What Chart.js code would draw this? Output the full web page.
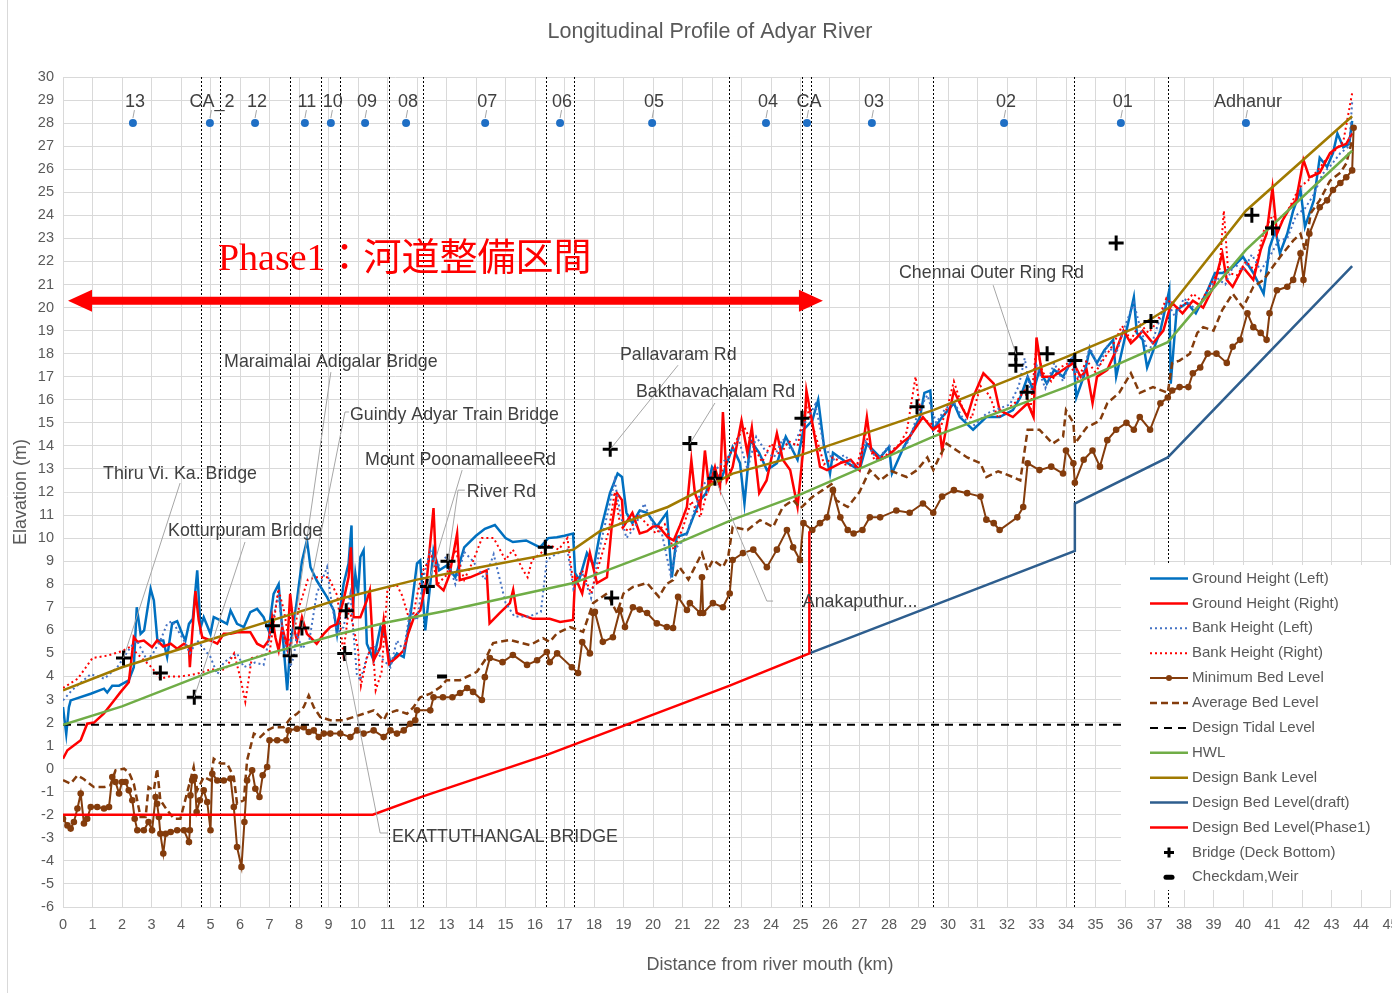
<!DOCTYPE html>
<html>
<head>
<meta charset="utf-8">
<title>Longitudinal Profile of Adyar River</title>
<script src="https://cdn.jsdelivr.net/npm/chart.js@4.4.1/dist/chart.umd.min.js"></script>
<style>
  html, body { margin: 0; padding: 0; background: #fff; overflow: hidden; }
  #wrap { width: 1392px; height: 993px; overflow: hidden; position: relative; }
  canvas { display: block; }
</style>
</head>
<body>
<div id="wrap"><canvas id="profile" width="1420" height="993"></canvas></div>
<script>
// ---- data (km from river mouth, elevation m) ----
const groundLeft = [[0,2.67],[0.11,1.5],[0.2,2.67],[0.26,2.96],[0.94,3.25],[1.39,3.47],[1.5,3.3],[1.67,3.6],[1.9,3.6],[2.23,3.83],[2.4,4.4],[2.5,7.0],[2.63,5.85],[2.75,6.0],[2.97,7.8],[3.08,7.3],[3.2,5.56],[3.4,5.56],[3.53,4.84],[3.7,6.3],[3.87,6.4],[4.04,5.85],[4.15,5.56],[4.27,6.28],[4.4,6.5],[4.55,8.6],[4.66,6.1],[4.77,6.57],[5.0,5.85],[5.11,6.57],[5.34,6.43],[5.56,6.28],[5.68,6.86],[5.9,6.28],[6.13,6.14],[6.35,6.79],[6.58,6.93],[6.8,6.57],[6.97,6.0],[7.14,7.58],[7.31,8.0],[7.48,5.27],[7.6,3.4],[7.7,5.27],[7.93,7.3],[8.1,9.0],[8.27,9.9],[8.39,8.74],[8.6,8.16],[8.95,7.44],[9.18,6.86],[9.29,5.85],[9.51,8.0],[9.68,8.9],[9.78,10.55],[9.83,7.0],[9.91,8.45],[10.0,7.6],[10.08,9.18],[10.19,9.47],[10.3,5.42],[10.53,4.7],[10.76,6.14],[10.93,5.7],[11.1,4.55],[11.32,5.0],[11.55,4.84],[11.77,6.57],[12.0,8.9],[12.11,9.03],[12.28,6.0],[12.45,8.0],[12.56,9.47],[12.75,8.6],[13.0,8.8],[13.3,8.3],[13.6,9.6],[14.0,10.1],[14.3,10.4],[14.64,10.57],[15.0,10.0],[15.25,9.83],[15.7,9.9],[16.17,9.6],[16.45,10.0],[16.74,10.04],[17.0,10.1],[17.29,10.2],[17.36,8.48],[17.5,8.2],[17.76,9.35],[18.0,8.8],[18.2,10.2],[18.54,11.95],[18.8,12.8],[18.95,12.65],[19.1,11.1],[19.3,10.65],[19.55,11.2],[19.8,11.1],[20.13,10.5],[20.47,11.1],[20.64,8.3],[20.8,10.04],[21.15,10.2],[21.36,10.9],[21.6,11.65],[21.8,11.95],[22.0,13.08],[22.3,12.5],[22.7,13.95],[22.95,13.25],[23.1,11.5],[23.3,14.25],[23.6,13.7],[23.86,12.95],[24.2,13.25],[24.5,14.4],[24.9,13.4],[25.1,14.7],[25.4,15.1],[25.6,16.0],[25.8,13.95],[26.0,12.8],[26.1,13.7],[26.6,13.25],[27.0,12.95],[27.25,14.1],[27.7,13.5],[28.0,13.95],[28.1,12.8],[28.5,13.95],[28.7,14.4],[29.05,15.25],[29.2,16.3],[29.4,16.4],[29.5,14.7],[29.8,15.25],[30.2,15.85],[30.4,15.25],[30.85,14.7],[31.3,15.25],[31.75,15.25],[32.2,15.55],[32.45,16.1],[32.7,17.0],[32.9,16.4],[33.1,17.3],[33.35,16.7],[33.6,17.3],[33.9,17.0],[34.25,17.85],[34.35,16.1],[34.6,17.0],[34.8,18.15],[35.05,17.6],[35.3,18.15],[35.6,18.6],[35.7,17.0],[36.05,19.0],[36.3,20.45],[36.4,18.9],[36.6,18.6],[36.75,17.4],[37.2,19.0],[37.5,20.75],[37.55,16.7],[37.75,19.9],[38.1,20.2],[38.4,19.75],[38.8,20.75],[39.05,21.5],[39.3,21.5],[39.65,21.75],[40.0,22.2],[40.35,21.5],[40.7,20.6],[40.9,22.6],[41.1,23.35],[41.25,22.35],[41.5,23.2],[41.7,24.2],[41.95,25.1],[42.1,23.5],[42.4,24.65],[42.6,26.5],[42.85,26.1],[43.05,26.7],[43.2,27.55],[43.4,26.95],[43.6,27.1],[43.7,28.1]];

const groundRight = [[0,0.43],[0.15,0.8],[0.6,1.23],[0.82,1.95],[1.05,2.0],[1.39,2.4],[1.73,2.96],[1.95,3.32],[2.23,3.75],[2.29,4.4],[2.4,5.7],[2.52,5.5],[2.74,5.56],[3.02,5.27],[3.19,5.56],[3.4,5.3],[3.65,5.42],[3.87,5.2],[4.1,5.42],[4.27,5.27],[4.3,4.4],[4.38,5.85],[4.49,7.7],[4.6,6.43],[4.72,5.7],[5.0,5.56],[5.23,5.42],[5.45,5.85],[5.68,5.85],[5.9,5.92],[6.35,5.92],[6.58,5.42],[6.8,5.27],[6.97,5.56],[7.09,6.57],[7.2,5.7],[7.31,5.13],[7.43,6.14],[7.6,5.27],[7.7,7.58],[7.82,6.14],[7.93,5.56],[8.1,6.57],[8.27,5.85],[8.6,5.42],[8.84,5.85],[9.06,6.14],[9.29,6.28],[9.51,7.3],[9.68,8.3],[9.76,9.6],[9.85,6.57],[10.08,6.57],[10.3,7.3],[10.4,7.73],[10.53,4.7],[10.76,5.27],[10.87,6.43],[11.05,4.55],[11.32,4.84],[11.55,5.13],[11.7,5.85],[11.9,6.57],[12.11,6.86],[12.34,8.3],[12.56,11.3],[12.67,8.0],[12.9,7.73],[13.1,8.4],[13.36,10.2],[13.45,8.18],[13.8,8.3],[14.14,8.48],[14.36,8.6],[14.46,6.3],[14.8,6.75],[15.15,7.18],[15.26,7.75],[15.38,6.75],[15.93,6.5],[16.5,6.5],[16.85,6.36],[17.29,6.45],[17.36,8.3],[17.6,7.6],[17.86,9.35],[18.1,8.05],[18.44,8.3],[18.6,10.5],[18.78,11.95],[18.95,11.65],[19.0,10.5],[19.3,11.1],[19.55,10.2],[19.8,10.3],[20.0,10.5],[20.2,10.5],[20.5,10.04],[20.7,9.9],[20.9,10.5],[21.15,11.35],[21.3,13.38],[21.42,11.95],[21.6,11.35],[21.76,13.8],[21.9,12.2],[22.1,13.08],[22.27,12.2],[22.37,15.47],[22.5,12.5],[22.7,13.08],[23.0,15.1],[23.2,13.7],[23.35,14.8],[23.6,11.95],[23.85,12.5],[24.2,14.55],[24.4,13.4],[24.65,12.95],[24.9,11.35],[25.1,13.95],[25.2,16.4],[25.4,15.0],[25.66,13.1],[25.9,12.95],[26.35,13.25],[26.7,13.4],[27.0,12.95],[27.25,15.25],[27.4,13.8],[27.7,13.4],[28.0,13.6],[28.4,14.1],[28.7,14.4],[29.15,15.25],[29.5,14.7],[29.7,14.9],[29.8,13.8],[30.0,15.2],[30.2,16.4],[30.4,15.85],[30.65,15.25],[30.85,16.1],[31.2,17.15],[31.55,16.7],[31.75,15.55],[32.2,15.25],[32.7,15.85],[32.9,15.25],[33.0,18.7],[33.2,17.0],[33.55,17.0],[33.9,17.3],[34.25,17.6],[34.5,17.0],[34.7,17.3],[34.9,15.85],[35.05,17.0],[35.4,17.3],[35.7,18.15],[35.95,19.0],[36.2,18.45],[36.4,18.7],[36.6,19.0],[36.95,18.45],[37.3,19.0],[37.5,19.9],[37.6,20.2],[37.95,19.75],[38.3,20.3],[38.65,20.0],[39.0,20.9],[39.3,22.35],[39.45,21.2],[39.65,20.9],[40.0,21.75],[40.35,21.2],[40.6,22.5],[40.8,23.2],[41.0,25.2],[41.15,23.2],[41.35,23.8],[41.6,24.35],[41.8,24.65],[42.05,26.4],[42.25,25.65],[42.6,25.85],[42.95,26.7],[43.2,26.95],[43.5,27.1],[43.7,27.55]];

const bankLeft = [[0,2.96],[0.3,3.4],[0.94,4.1],[1.4,3.9],[1.84,4.4],[2.29,5.27],[2.5,5.56],[2.85,4.7],[3.05,5.0],[3.3,5.56],[3.53,6.28],[3.7,6.4],[4.1,5.56],[4.3,5.0],[4.55,5.56],[5.0,4.84],[5.23,4.1],[5.45,4.6],[5.7,4.84],[5.9,5.0],[6.13,4.4],[6.5,4.6],[6.8,4.5],[7.14,6.57],[7.3,7.6],[7.45,5.9],[7.7,4.4],[7.82,4.84],[7.93,5.85],[8.1,5.2],[8.35,5.56],[8.6,7.58],[8.95,8.74],[9.06,7.58],[9.29,5.85],[9.51,6.14],[9.74,7.58],[9.96,4.1],[10.08,3.83],[10.3,4.84],[10.53,5.42],[10.76,4.84],[11.1,4.4],[11.32,5.56],[11.55,5.13],[11.77,6.86],[12.0,6.43],[12.22,8.3],[12.45,9.47],[12.67,8.74],[13.0,9.2],[13.3,8.0],[13.6,9.4],[13.9,9.0],[14.3,8.2],[14.6,9.3],[15.0,7.2],[15.3,6.6],[15.8,6.6],[16.2,6.8],[16.4,9.05],[16.7,9.3],[17.1,9.5],[17.3,7.8],[17.6,8.5],[17.9,7.4],[18.2,9.6],[18.5,11.3],[18.7,12.5],[18.9,11.0],[19.1,10.0],[19.4,10.5],[19.7,11.5],[20.0,10.6],[20.3,10.2],[20.6,8.4],[20.8,9.6],[21.1,10.0],[21.4,11.2],[21.7,12.3],[22.0,12.8],[22.3,13.2],[22.6,13.6],[22.9,14.3],[23.2,13.0],[23.5,14.4],[23.8,13.8],[24.1,13.5],[24.4,14.3],[24.7,13.8],[25.0,14.7],[25.3,15.3],[25.5,15.8],[25.8,14.0],[26.1,13.4],[26.5,13.6],[26.9,13.0],[27.2,14.2],[27.6,13.4],[28.0,14.0],[28.4,13.7],[28.7,14.3],[29.0,15.5],[29.3,16.2],[29.6,15.0],[29.9,15.6],[30.2,15.9],[30.5,15.2],[30.9,14.9],[31.3,15.4],[31.7,15.6],[32.1,15.8],[32.4,16.6],[32.6,17.8],[32.8,16.3],[33.0,17.5],[33.3,16.5],[33.6,17.6],[33.9,16.8],[34.2,17.9],[34.5,16.7],[34.8,18.3],[35.1,17.4],[35.4,18.3],[35.7,18.0],[36.0,19.2],[36.3,20.2],[36.5,19.2],[36.8,18.0],[37.1,19.2],[37.4,20.3],[37.7,19.6],[38.0,20.4],[38.4,19.9],[38.8,20.6],[39.1,21.3],[39.4,21.0],[39.7,21.9],[40.0,21.6],[40.3,22.3],[40.6,21.6],[40.9,22.2],[41.2,22.9],[41.5,23.0],[41.8,24.0],[42.1,24.3],[42.4,24.9],[42.7,25.8],[43.0,26.2],[43.3,26.7],[43.6,27.0],[43.7,28.9]];

const bankRight = [[0,3.5],[0.5,3.9],[1.0,4.8],[1.5,4.9],[2.0,5.1],[2.3,5.3],[2.5,5.0],[3.0,4.4],[3.3,3.9],[3.6,4.0],[4.0,4.0],[4.5,4.1],[5.0,4.3],[5.5,4.3],[5.8,5.0],[6.0,4.0],[6.18,2.9],[6.4,4.8],[7.0,5.0],[7.3,7.8],[7.5,6.8],[7.7,5.2],[8.0,7.0],[8.3,8.2],[8.6,8.3],[9.0,8.3],[9.3,7.5],[9.5,5.0],[9.7,7.0],[10.0,5.2],[10.1,3.6],[10.3,4.8],[10.5,5.4],[10.6,3.4],[10.8,4.2],[11.0,7.8],[11.3,8.0],[11.5,7.5],[11.8,6.2],[12.0,7.5],[12.2,8.6],[12.5,9.2],[12.7,8.0],[13.0,8.4],[13.3,9.5],[13.6,8.2],[13.9,9.0],[14.2,10.0],[14.6,10.0],[15.0,9.05],[15.25,9.5],[15.6,8.6],[15.75,8.3],[15.9,9.05],[16.2,9.35],[16.5,9.7],[16.8,9.5],[17.1,10.0],[17.3,8.0],[17.6,8.6],[17.9,7.6],[18.2,9.0],[18.5,10.3],[18.7,12.0],[18.9,10.5],[19.2,10.3],[19.5,11.0],[19.8,10.6],[20.1,10.2],[20.4,10.6],[20.7,9.5],[21.0,10.4],[21.3,11.6],[21.6,10.9],[21.9,12.3],[22.2,12.6],[22.5,13.3],[22.8,14.2],[23.1,14.8],[23.4,14.0],[23.7,13.3],[24.0,14.1],[24.3,13.6],[24.6,14.2],[24.9,14.0],[25.2,15.7],[25.5,14.5],[25.8,13.2],[26.1,13.5],[26.5,13.2],[26.9,13.1],[27.2,14.5],[27.5,13.4],[27.9,13.6],[28.3,14.0],[28.6,14.6],[28.9,17.0],[29.1,15.2],[29.4,15.0],[29.7,14.6],[30.0,15.8],[30.2,16.8],[30.5,15.6],[30.8,15.2],[31.1,16.6],[31.4,16.2],[31.7,15.2],[32.0,15.6],[32.3,15.9],[32.6,16.4],[32.8,15.6],[33.0,18.4],[33.2,17.2],[33.5,16.8],[33.8,17.4],[34.1,17.6],[34.4,16.9],[34.7,17.7],[35.0,17.2],[35.3,17.8],[35.6,18.4],[35.9,19.2],[36.2,18.6],[36.5,19.3],[36.8,18.9],[37.1,19.4],[37.4,20.4],[37.7,20.0],[38.0,20.1],[38.3,20.6],[38.6,20.3],[38.9,21.0],[39.2,21.6],[39.35,24.2],[39.5,21.5],[39.8,21.4],[40.1,22.0],[40.4,21.6],[40.7,23.3],[41.0,24.0],[41.3,23.7],[41.6,24.4],[41.9,25.2],[42.2,25.5],[42.5,25.9],[42.8,26.4],[43.1,26.8],[43.4,27.2],[43.7,29.3]];

const minBed = [[0,-2.17],[0.15,-2.46],[0.26,-2.6],[0.37,-2.31],[0.49,-1.73],[0.6,-1.08],[0.71,-2.38],[0.82,-2.17],[0.94,-1.66],[1.16,-1.66],[1.39,-1.73],[1.56,-1.66],[1.67,-0.36],[1.78,-0.58],[1.9,-1.08],[2.0,-0.58],[2.12,-0.58],[2.23,-0.94],[2.35,-1.37],[2.43,-2.17],[2.52,-2.67],[2.74,-2.67],[2.9,-2.31],[3.02,-2.67],[3.14,-1.23],[3.19,-1.52],[3.25,-2.1],[3.3,-2.82],[3.4,-3.68],[3.48,-2.82],[3.65,-2.75],[3.87,-2.67],[4.1,-2.67],[4.27,-3.18],[4.3,-2.67],[4.32,-1.16],[4.38,-0.51],[4.46,-0.36],[4.53,-1.88],[4.64,-1.37],[4.77,-0.94],[4.89,-1.45],[5.0,-2.67],[5.06,-0.22],[5.23,-0.51],[5.45,-0.51],[5.68,-0.43],[5.79,-1.66],[5.9,-3.4],[6.05,-4.26],[6.15,-2.31],[6.24,-0.51],[6.41,-0.07],[6.52,-0.87],[6.66,-1.23],[6.77,-0.29],[6.92,0.07],[7.0,1.23],[7.26,1.23],[7.57,1.23],[7.65,1.66],[7.93,1.73],[8.16,1.8],[8.33,1.59],[8.5,1.66],[8.67,1.37],[8.84,1.52],[9.06,1.52],[9.4,1.52],[9.74,1.37],[9.97,1.66],[10.19,1.52],[10.53,1.66],[10.87,1.37],[11.1,1.66],[11.32,1.52],[11.55,1.66],[11.77,1.95],[11.94,2.1],[12.0,2.53],[12.45,2.53],[12.56,3.1],[12.88,3.1],[13.2,3.1],[13.46,3.28],[13.7,3.5],[13.9,3.33],[14.2,2.98],[14.3,3.97],[14.47,4.8],[14.9,4.62],[15.25,4.93],[15.73,4.5],[16.07,4.7],[16.4,5.06],[16.5,4.62],[16.75,5.0],[17.25,4.4],[17.46,4.15],[17.6,5.49],[17.86,5.0],[17.97,6.75],[18.03,6.8],[18.3,5.5],[18.64,5.7],[18.88,6.88],[19.05,6.14],[19.32,7.0],[19.55,6.9],[19.8,6.75],[20.13,6.3],[20.47,6.14],[20.68,6.1],[20.85,7.45],[21.15,6.88],[21.25,7.18],[21.6,6.75],[21.66,8.3],[21.7,6.75],[22.03,7.18],[22.37,7.0],[22.6,7.6],[22.7,9.05],[23.05,9.35],[23.4,9.5],[23.86,8.74],[24.2,9.5],[24.54,10.35],[24.75,9.6],[24.98,9.05],[25.1,10.65],[25.4,10.35],[25.66,10.65],[25.9,10.9],[26.1,12.08],[26.35,10.9],[26.6,10.35],[26.8,10.2],[27.1,10.35],[27.35,10.9],[27.7,10.9],[28.25,11.2],[28.7,11.1],[29.15,11.5],[29.5,11.1],[29.8,11.8],[30.2,12.08],[30.65,11.95],[31.1,11.8],[31.3,10.8],[31.55,10.65],[31.75,10.35],[32.35,10.9],[32.55,11.35],[32.7,13.25],[33.1,12.95],[33.5,13.1],[33.9,12.8],[34.0,13.8],[34.25,13.25],[34.3,12.4],[34.6,13.4],[34.9,13.8],[35.15,13.1],[35.4,14.25],[35.7,14.7],[36.05,15.0],[36.3,14.7],[36.5,15.25],[36.85,14.7],[37.2,15.85],[37.45,16.1],[37.6,16.4],[37.85,16.55],[38.15,16.55],[38.3,17.15],[38.55,17.4],[38.8,18.0],[39.1,18.0],[39.45,17.6],[39.65,18.3],[39.9,18.6],[40.15,19.75],[40.35,19.15],[40.6,18.9],[40.8,18.6],[40.9,19.75],[41.15,20.75],[41.5,20.9],[41.7,21.2],[41.95,22.35],[42.05,21.2],[42.25,23.2],[42.6,24.35],[42.85,24.65],[43.05,25.1],[43.3,25.4],[43.5,25.65],[43.7,25.95],[43.75,27.8]];

const avgBed = [[0,-0.5],[0.26,-0.65],[0.49,-0.29],[0.7,-0.45],[1.05,-0.8],[1.4,-0.8],[1.61,-0.72],[1.78,-0.07],[2.07,0],[2.25,-0.2],[2.4,-0.65],[2.63,-2.1],[2.8,-2.1],[2.9,-0.8],[3.08,-0.94],[3.19,0],[3.3,-1.37],[3.53,-1.8],[3.76,-2.17],[3.98,-2.17],[4.2,-1.08],[4.43,0.07],[4.55,-0.94],[4.77,-0.36],[5.0,-0.51],[5.11,0.43],[5.34,0.22],[5.56,0.22],[5.79,-0.36],[5.9,-1.52],[6.13,-1.37],[6.24,0.36],[6.47,1.52],[6.69,1.37],[6.92,1.66],[7.14,1.8],[7.48,1.8],[7.7,2.17],[7.93,2.38],[8.16,2.67],[8.33,3.18],[8.5,2.67],[8.72,2.24],[9.06,2.1],[9.51,2.1],[9.85,2.24],[10.19,2.38],[10.53,2.53],[10.87,2.1],[10.98,2.38],[11.32,2.53],[11.66,2.38],[11.88,2.67],[12.11,3.1],[12.45,3.25],[12.79,3.54],[13.0,3.84],[13.46,3.84],[14.03,4.2],[14.3,4.7],[14.58,5.45],[15.15,5.58],[15.83,5.36],[16.27,5.66],[16.5,5.5],[16.75,5.88],[17.19,6.14],[17.63,5.93],[17.97,7.18],[18.44,7.6],[18.78,6.75],[19.0,7.6],[19.32,7.88],[19.8,8.05],[20.2,7.45],[20.45,8.0],[20.68,8.18],[20.9,8.74],[21.2,8.2],[21.66,9.35],[21.85,8.6],[22.03,9.05],[22.37,8.74],[22.55,9.2],[22.7,10.48],[23.2,10.35],[23.63,10.78],[24.07,10.48],[24.4,11.35],[24.75,11.65],[25.0,11.3],[25.4,11.78],[25.75,12.08],[26.1,12.38],[26.2,11.65],[26.6,11.35],[27.0,12.0],[27.35,12.95],[27.7,12.5],[28.1,12.9],[28.6,12.65],[28.95,12.95],[29.3,13.5],[29.5,12.95],[29.7,13.5],[29.95,14.1],[30.3,13.8],[30.65,13.5],[31.1,13.25],[31.3,12.65],[31.7,12.9],[32.2,12.65],[32.45,12.5],[32.7,14.7],[33.1,14.7],[33.55,14.1],[33.9,14.4],[34.0,15.55],[34.25,15.0],[34.3,14.1],[34.7,14.8],[35.15,15.1],[35.4,15.85],[35.8,16.3],[36.2,17.15],[36.5,16.3],[36.95,16.55],[37.45,16.3],[37.6,17.6],[37.85,17.7],[38.2,18.0],[38.45,18.9],[38.65,19.15],[39.0,19.0],[39.3,19.9],[39.65,20.6],[40.0,20.0],[40.35,20.9],[40.7,21.2],[41.0,21.75],[41.35,22.35],[41.7,22.9],[41.95,23.2],[42.1,22.5],[42.3,24.1],[42.6,24.65],[42.95,25.5],[43.3,25.85],[43.5,26.25],[43.7,27.25]];

const tidalLevel = [[0,1.9],[44.6,1.9]];
const hwl = [[0,1.9],[2,2.7],[5,4.2],[7,5.0],[9.4,5.85],[11,6.35],[13,6.85],[17.3,8.05],[20.5,9.6],[22.7,10.8],[25,11.9],[29.5,14.4],[34,16.55],[37.45,18.5],[40.1,22.5],[43.7,26.8]];
const designBank = [[0,3.4],[2,4.4],[5,5.6],[7,6.4],[9.5,7.4],[12,8.2],[14,8.7],[17.3,9.5],[18.2,10.3],[20.5,11.35],[22.7,12.8],[25,13.6],[29.5,15.55],[34,17.85],[36.5,19.2],[37.5,20.0],[40.1,24.2],[43.7,28.3]];
const designBedDraft = [[25.3,5.0],[34.3,9.45],[34.3,11.5],[37.45,13.5],[43.7,21.8]];
const designBedPhase1 = [[0,-2],[10.5,-2],[12.2,-1.2],[16.4,0.6],[22.6,3.6],[25.3,5.0],[25.3,10.3]];

const bridgeKm    = [2.05,3.3,4.45,7.1,7.7,8.1,9.55,9.6,12.35,13.05,16.35,18.55,18.6,21.25,22.1,25.05,28.95,32.3,32.3,32.68,33.36,34.3,35.7,36.88,40.3,41.0];
const bridgeLevel = [4.8,4.15,3.1,6.2,4.9,6.1,5.0,6.85,7.9,9.0,9.6,13.85,7.4,14.1,12.6,15.2,15.7,18.0,17.5,16.33,18.0,17.7,22.8,19.4,24.0,23.45];
const checkdamKm = [12.85];
const checkdamLevel = [4.0];

const stationNames = ['13','CA_2','12','11','10','09','08','07','06','05','04','CA','03','02','01','Adhanur'];
const stationKm = [2.37,4.98,6.51,8.2,9.08,10.24,11.63,14.31,16.85,19.97,23.83,25.22,27.42,31.9,35.86,40.1];
const stationLevel = 28;

const sectionKm = [4.68,5.32,7.69,8.75,9.39,11.05,12.2,16.37,17.32,22.58,25.05,25.36,29.49,34.27,37.46];

// callout labels: text, label anchor (km, m), leader start (km, m), bridge index the leader points at
const callouts = [
  {text: 'Thiru Vi. Ka. Bridge', at: [1.36, 12.82], from: [[3.97, 12.39]], bridge: 0},
  {text: 'Kotturpuram Bridge', at: [3.56, 10.35], from: [[6.17, 9.83]], bridge: 2},
  {text: 'Maraimalai Adigalar Bridge', at: [5.46, 17.72], from: [[9.08, 17.2]], bridge: 4},
  {text: 'Guindy Adyar Train Bridge', at: [9.73, 15.38], from: [[9.7, 15.47], [9.56, 15.47]], bridge: 5},
  {text: 'EKATTUTHANGAL BRIDGE', at: [11.15, -2.92], from: [[11.02, -2.79], [10.75, -2.79]], bridge: 6},
  {text: 'Mount PoonamalleeeRd', at: [10.24, 13.43], from: [[13.53, 12.95]], bridge: 8},
  {text: 'River Rd', at: [13.69, 12.08], from: [[13.62, 12.08], [13.39, 12.08]], bridge: 9},
  {text: 'Pallavaram Rd', at: [18.88, 18.02], from: [[20.85, 17.5]], bridge: 11},
  {text: 'Bakthavachalam Rd', at: [19.42, 16.38], from: [[22.1, 15.86]], bridge: 13},
  {text: 'Anakaputhur...', at: [25.08, 7.27], from: [[24.07, 7.27], [23.86, 7.27]], bridge: 14},
  {text: 'Chennai Outer Ring Rd', at: [28.34, 21.54], from: [[31.53, 20.97]], bridge: 17}
];

const phaseText = 'Phase1：河道整備区間';
const phaseTextAt = [5.25, 22.1];
const phaseSpan = [0.17, 25.76];
const phaseLevel = 20.3;

// ---- helpers ----
const pts = a => a.map(([x, y]) => ({x, y}));
const zip = (xs, ys) => xs.map((x, i) => ({x, y: ys[i]}));
const FONT = '"Liberation Sans", Arial, sans-serif';
const TEXT = '#595959';
const BROWN = '#843C0C';

const datasets = [
  {label: 'Ground Height (Left)', data: pts(groundLeft), borderColor: '#0070C0', borderWidth: 2.5, pointRadius: 0, order: 11},
  {label: 'Ground Height (Right)', data: pts(groundRight), borderColor: '#FF0000', borderWidth: 2.5, pointRadius: 0, order: 10},
  {label: 'Bank Height (Left)', data: pts(bankLeft), borderColor: '#4472C4', borderWidth: 2, borderDash: [2, 3], pointRadius: 0, order: 9},
  {label: 'Bank Height (Right)', data: pts(bankRight), borderColor: '#FF0000', borderWidth: 2, borderDash: [2, 3], pointRadius: 0, order: 8},
  {label: 'Minimum Bed Level', data: pts(minBed), borderColor: BROWN, borderWidth: 2, pointRadius: 3.3, pointBackgroundColor: BROWN, pointBorderWidth: 0, order: 7},
  {label: 'Average Bed Level', data: pts(avgBed), borderColor: BROWN, borderWidth: 2.5, borderDash: [7, 4], pointRadius: 0, order: 6},
  {label: 'Design Tidal Level', data: pts(tidalLevel), borderColor: '#000000', borderWidth: 2, borderDash: [8, 6], pointRadius: 0, order: 5},
  {label: 'HWL', data: pts(hwl), borderColor: '#70AD47', borderWidth: 2.5, pointRadius: 0, order: 4},
  {label: 'Design Bank Level', data: pts(designBank), borderColor: '#A07A00', borderWidth: 2.5, pointRadius: 0, order: 3},
  {label: 'Design Bed Level(draft)', data: pts(designBedDraft), borderColor: '#2E5E8E', borderWidth: 2.5, pointRadius: 0, order: 2},
  {label: 'Design Bed Level(Phase1)', data: pts(designBedPhase1), borderColor: '#FF0000', borderWidth: 2.5, pointRadius: 0, order: 1},
  {label: 'Bridge (Deck Bottom)', data: zip(bridgeKm, bridgeLevel), showLine: false, pointStyle: 'cross', pointRadius: 7.5, borderColor: '#000000', pointBorderWidth: 3, borderWidth: 3, order: 0},
  {label: 'Checkdam,Weir', data: zip(checkdamKm, checkdamLevel), showLine: false, pointStyle: 'line', pointRadius: 5, borderColor: '#000000', pointBorderWidth: 4, borderWidth: 4, order: 0},
  {label: 'stations', data: stationKm.map(k => ({x: k, y: stationLevel})), showLine: false, pointStyle: 'circle', pointRadius: 4, pointBackgroundColor: '#1F6FC5', pointBorderWidth: 0, borderColor: '#1F6FC5', order: 0, inLegend: false}
];

const overlay = {
  id: 'overlay',
  beforeDatasetsDraw(chart) {
    const {ctx, chartArea: a, scales: {x}} = chart;
    ctx.save();
    ctx.strokeStyle = '#000';
    ctx.lineWidth = 1;
    ctx.setLineDash([2, 2]);
    sectionKm.forEach(k => {
      const px = Math.round(x.getPixelForValue(k)) + 0.5;
      ctx.beginPath(); ctx.moveTo(px, a.top); ctx.lineTo(px, a.bottom); ctx.stroke();
    });
    ctx.restore();
  },
  afterDraw(chart) {
    const {ctx, scales: {x, y}} = chart;
    const P = (k, v) => [x.getPixelForValue(k), y.getPixelForValue(v)];
    ctx.save();

    // chart border on the left
    ctx.strokeStyle = '#D9D9D9'; ctx.lineWidth = 1;
    ctx.beginPath(); ctx.moveTo(7.5, 0); ctx.lineTo(7.5, 993); ctx.stroke();

    // title and axis titles
    ctx.fillStyle = TEXT;
    ctx.textBaseline = 'middle';
    ctx.textAlign = 'center';
    ctx.font = '21.5px ' + FONT;
    ctx.fillText('Longitudinal Profile of Adyar River', 710, 32.5);
    ctx.font = '18px ' + FONT;
    ctx.fillText('Distance from river mouth (km)', 770, 965);
    ctx.save();
    ctx.translate(21, 492); ctx.rotate(-Math.PI / 2);
    ctx.fillText('Elavation (m)', 0, 0);
    ctx.restore();

    // callouts with leader lines
    ctx.strokeStyle = '#A6A6A6'; ctx.lineWidth = 1;
    callouts.forEach(c => {
      const path = c.from.map(p => P(p[0], p[1]));
      path.push(P(bridgeKm[c.bridge], bridgeLevel[c.bridge]));
      ctx.beginPath();
      path.forEach((p, i) => i ? ctx.lineTo(p[0], p[1]) : ctx.moveTo(p[0], p[1]));
      ctx.stroke();
    });
    ctx.fillStyle = '#404040';
    ctx.font = '17.8px ' + FONT;
    ctx.textAlign = 'left';
    callouts.forEach(c => {
      const [tx, ty] = P(c.at[0], c.at[1]);
      ctx.fillText(c.text, tx, ty + 1.5);
    });

    // station labels
    ctx.textAlign = 'center';
    ctx.textBaseline = 'alphabetic';
    ctx.font = '18px ' + FONT;
    stationKm.forEach((k, i) => {
      const [sx, sy] = P(k, stationLevel);
      ctx.beginPath(); ctx.moveTo(sx, sy - 5); ctx.lineTo(sx + 1.5, sy - 13); ctx.stroke();
      ctx.fillText(stationNames[i], sx + 2, sy - 16);
    });

    // Phase1 arrow
    const [ax1, ay] = P(phaseSpan[0], phaseLevel);
    const [ax2] = P(phaseSpan[1], phaseLevel);
    ctx.fillStyle = '#FF0000'; ctx.strokeStyle = '#FF0000';
    ctx.lineWidth = 8;
    ctx.beginPath(); ctx.moveTo(ax1 + 20, ay); ctx.lineTo(ax2 - 20, ay); ctx.stroke();
    ctx.beginPath(); ctx.moveTo(ax1, ay); ctx.lineTo(ax1 + 24, ay - 11); ctx.lineTo(ax1 + 24, ay + 11); ctx.closePath(); ctx.fill();
    ctx.beginPath(); ctx.moveTo(ax2, ay); ctx.lineTo(ax2 - 24, ay - 11); ctx.lineTo(ax2 - 24, ay + 11); ctx.closePath(); ctx.fill();
    const [ptx, pty] = P(phaseTextAt[0], phaseTextAt[1]);
    ctx.textAlign = 'left'; ctx.textBaseline = 'middle';
    ctx.font = '38px "Liberation Serif", "Noto Sans CJK JP", serif';
    ctx.fillText(phaseText, ptx, pty + 1);

    // legend box
    ctx.fillStyle = '#FFFFFF';
    ctx.fillRect(1121, 565, 300, 325);
    const items = chart.data.datasets.filter(d => d.inLegend !== false);
    ctx.font = '15px ' + FONT;
    ctx.textBaseline = 'middle';
    items.forEach((d, i) => {
      const ly = 578.5 + i * 24.9;
      ctx.setLineDash([]);
      if (d.showLine !== false) {
        ctx.strokeStyle = d.borderColor; ctx.lineWidth = d.borderWidth;
        ctx.setLineDash(d.borderDash || []);
        ctx.beginPath(); ctx.moveTo(1150, ly); ctx.lineTo(1188, ly); ctx.stroke();
        ctx.setLineDash([]);
        if (d.pointRadius > 0) {
          ctx.fillStyle = d.pointBackgroundColor;
          ctx.beginPath(); ctx.arc(1169, ly, 3, 0, Math.PI * 2); ctx.fill();
        }
      } else if (d.pointStyle === 'cross') {
        ctx.strokeStyle = '#000'; ctx.lineWidth = 3;
        ctx.beginPath(); ctx.moveTo(1164, ly); ctx.lineTo(1174, ly); ctx.moveTo(1169, ly - 5); ctx.lineTo(1169, ly + 5); ctx.stroke();
      } else {
        ctx.strokeStyle = '#000'; ctx.lineWidth = 5; ctx.lineCap = 'round';
        ctx.beginPath(); ctx.moveTo(1166, ly); ctx.lineTo(1172, ly); ctx.stroke();
        ctx.lineCap = 'butt';
      }
      ctx.fillStyle = TEXT;
      ctx.fillText(d.label, 1192, ly);
    });
    ctx.restore();
  }
};

new Chart(document.getElementById('profile'), {
  type: 'line',
  data: {datasets},
  plugins: [overlay],
  options: {
    responsive: false,
    animation: false,
    layout: {padding: {left: 0, right: 29.5, top: 77, bottom: 0}},
    plugins: {legend: {display: false}, tooltip: {enabled: false}, title: {display: false}},
    elements: {line: {tension: 0, fill: false}},
    scales: {
      x: {
        type: 'linear', min: 0, max: 45,
        ticks: {stepSize: 1, autoSkip: false, maxRotation: 0, color: TEXT, font: {family: FONT, size: 14.5}, padding: 9},
        grid: {color: '#D9D9D9', drawTicks: false},
        border: {color: '#D9D9D9'},
        afterFit: s => { s.height = 86; }
      },
      y: {
        type: 'linear', min: -6, max: 30,
        ticks: {stepSize: 1, autoSkip: false, color: TEXT, font: {family: FONT, size: 14.5}, padding: 9},
        grid: {color: '#D9D9D9', drawTicks: false},
        border: {color: '#D9D9D9'},
        afterFit: s => { s.width = 63; }
      }
    }
  }
});
</script>
</body>
</html>
